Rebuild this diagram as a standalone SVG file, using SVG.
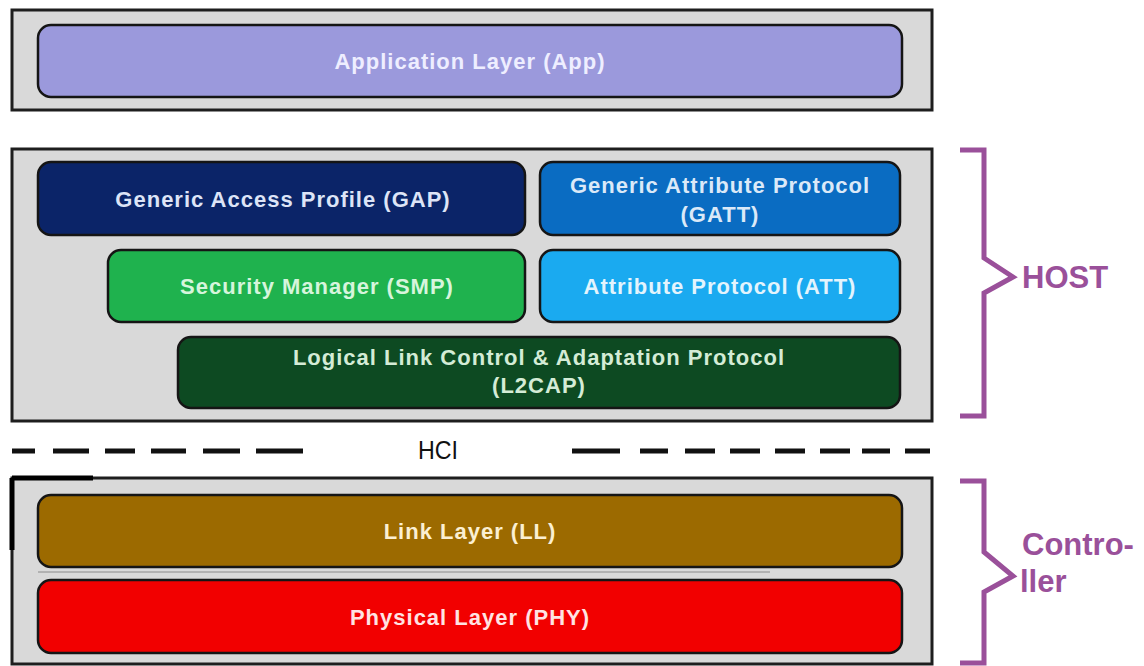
<svg xmlns="http://www.w3.org/2000/svg" width="1144" height="666" viewBox="0 0 1144 666">
  <style>
    .frame { fill: #d9d9d9; stroke: #1e1e1e; stroke-width: 3; }
    .layer { stroke: #151515; stroke-width: 2.5; }
    .lbl { font-family: "Liberation Sans", Arial, sans-serif; font-weight: bold; font-size: 22px; letter-spacing: 1px; text-anchor: middle; }
    .brace { fill: none; stroke: #9a509a; stroke-width: 5; stroke-linejoin: miter; }
    .side { font-family: "Liberation Sans", Arial, sans-serif; font-weight: bold; font-size: 31px; fill: #9a509a; }
    .hci { fill: none; stroke: #111; stroke-width: 5; }
  </style>
  <rect width="1144" height="666" fill="#ffffff"/>

  <!-- stack frames -->
  <g id="frames">
    <rect class="frame" x="12" y="10" width="920" height="100"/>
    <rect class="frame" x="12" y="149" width="920" height="272"/>
    <rect class="frame" x="12" y="478" width="920" height="186"/>
    <path d="M12 478 H93 M12 478 V550" stroke="#000" stroke-width="5" fill="none"/>
  </g>

  <g id="app">
    <rect class="layer" x="38" y="25" width="864" height="72" rx="13" fill="#9b99dc"/>
    <text class="lbl" x="470" y="69" fill="#eeeeff">Application Layer (App)</text>
  </g>

  <g id="gap">
    <rect class="layer" x="38" y="162" width="487" height="73" rx="13" fill="#0b2468"/>
    <text class="lbl" x="283" y="207" fill="#dde4f7">Generic Access Profile (GAP)</text>
  </g>

  <g id="gatt">
    <rect class="layer" x="540" y="162" width="360" height="73" rx="13" fill="#0a6cc2"/>
    <text class="lbl" x="720" y="193" fill="#dbe9f8">Generic Attribute Protocol</text>
    <text class="lbl" x="720" y="222" fill="#dbe9f8">(GATT)</text>
  </g>

  <g id="smp">
    <rect class="layer" x="108" y="250" width="417" height="72" rx="13" fill="#1fb24e"/>
    <text class="lbl" x="317" y="294" fill="#d6f5dc">Security Manager (SMP)</text>
  </g>

  <g id="att">
    <rect class="layer" x="540" y="250" width="360" height="72" rx="13" fill="#1aaaf0"/>
    <text class="lbl" x="720" y="294" fill="#e3f4fd">Attribute Protocol (ATT)</text>
  </g>

  <g id="l2cap">
    <rect class="layer" x="178" y="337" width="722" height="71" rx="13" fill="#0d4a22"/>
    <text class="lbl" x="539" y="365" fill="#d4ecd6">Logical Link Control &amp; Adaptation Protocol</text>
    <text class="lbl" x="539" y="393" fill="#d4ecd6">(L2CAP)</text>
  </g>

  <g id="ll">
    <rect class="layer" x="38" y="495" width="864" height="72" rx="13" fill="#9c6a00"/>
    <text class="lbl" x="470" y="539" fill="#fbefd2">Link Layer (LL)</text>
  </g>

  <line x1="38" y1="572" x2="770" y2="572" stroke="#8a8a8a" stroke-width="1"/>

  <g id="phy">
    <rect class="layer" x="38" y="580" width="864" height="73" rx="13" fill="#f20000"/>
    <text class="lbl" x="470" y="625" fill="#ffe3e3">Physical Layer (PHY)</text>
  </g>

  <!-- host/controller interface boundary -->
  <g id="hci">
    <path class="hci" d="M12 451 H35 M53 451 H89 M105 451 H135 M151 451 H186 M203 451 H240 M256 451 H303"/>
    <path class="hci" d="M572 451 H620 M640 451 H668 M685 451 H715 M730 451 H760 M775 451 H805 M820 451 H850 M862 451 H890 M905 451 H930"/>
    <text x="438" y="459" font-family="Liberation Sans, Arial, sans-serif" font-size="26" fill="#111" text-anchor="middle" textLength="40" lengthAdjust="spacingAndGlyphs">HCI</text>
  </g>

  <g id="host">
    <path class="brace" d="M960 150 H984 V258 L1013 277 L984 293 V416 H960"/>
    <text class="side" x="1022" y="288">HOST</text>
  </g>

  <g id="controller">
    <path class="brace" d="M960 481 H984 V552 L1013 576 L984 592 V663 H960"/>
    <text class="side" x="1022" y="555">Contro-</text>
    <text class="side" x="1020" y="592">ller</text>
  </g>
</svg>
